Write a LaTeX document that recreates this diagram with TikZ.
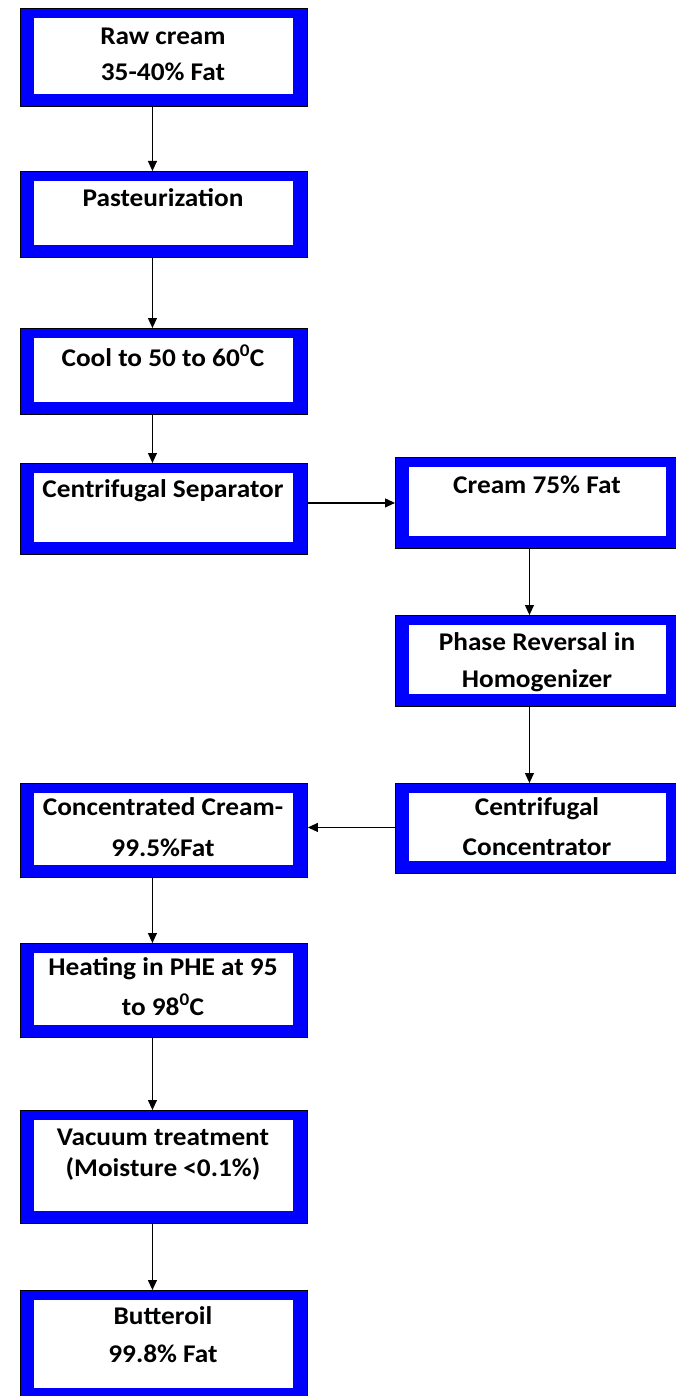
\documentclass[tikz,border=0pt]{standalone}
\usepackage{fontspec}
\setmainfont{Carlito}[FakeStretch=1.07]
\usetikzlibrary{arrows.meta,calc}
\definecolor{bandblue}{RGB}{0,0,255}
\tikzset{
  box/.style={draw=black, line width=0.9pt, fill=bandblue, rectangle, inner sep=0pt, anchor=north west,
    path picture={\fill[white] ([shift={(14pt,12pt)}]path picture bounding box.south west) rectangle ([shift={(-14pt,-10pt)}]path picture bounding box.north east);}},
  lbl/.style={font=\fontsize{25.5}{30}\selectfont\bfseries, anchor=base, inner sep=0pt},
  arr/.style={-{Triangle[length=10pt,width=9pt]}, line width=1.1pt}
}
\begin{document}
\begin{tikzpicture}[x=1pt,y=-1pt]
\useasboundingbox[fill=white] (0,0) rectangle (675,1396);
% boxes
\node[box, minimum width=287pt, minimum height=98pt] (b1) at (20,8) {};
\node[box, minimum width=287pt, minimum height=86pt] (b2) at (20,171) {};
\node[box, minimum width=287pt, minimum height=86pt] (b3) at (20,328) {};
\node[box, minimum width=287pt, minimum height=91pt] (b4) at (20,463) {};
\node[box, minimum width=285pt, minimum height=91pt] (b5) at (395,457) {};
\node[box, minimum width=285pt, minimum height=91pt] (b6) at (395,615) {};
\node[box, minimum width=285pt, minimum height=90pt] (b7) at (395,783) {};
\node[box, minimum width=287pt, minimum height=94pt] (b8) at (20,783) {};
\node[box, minimum width=287pt, minimum height=94pt] (b9) at (20,943) {};
\node[box, minimum width=287pt, minimum height=113pt] (b10) at (20,1110) {};
\node[box, minimum width=287pt, minimum height=110pt] (b11) at (20,1290) {};
% texts
\node[lbl] (t1a) at (163,45) {Raw cream};
\node[lbl] (t1b) at (163,81) {35-40\% Fat};
\node[lbl] (t2) at (163,207) {Pasteurization};
\node[lbl] (t3) at (163,366) {Cool to 50 to 60\textsuperscript{0}C};
\node[lbl] (t4) at (163,497) {Centrifugal Separator};
\node[lbl] (t5) at (537,493) {Cream 75\% Fat};
\node[lbl] (t6a) at (537,650) {Phase Reversal in};
\node[lbl] (t6b) at (537,687) {Homogenizer};
\node[lbl] (t7a) at (537,815) {Centrifugal};
\node[lbl] (t7b) at (537,855) {Concentrator};
\node[lbl] (t8a) at (163,815) {Concentrated Cream-};
\node[lbl] (t8b) at (163,856) {99.5\%Fat};
\node[lbl] (t9a) at (163,975) {Heating in PHE at 95};
\node[lbl] (t9b) at (163,1015) {to 98\textsuperscript{0}C};
\node[lbl] (t10a) at (163,1145) {Vacuum treatment};
\node[lbl] (t10b) at (163,1176) {(Moisture <0.1\%)};
\node[lbl] (t11a) at (163,1324) {Butteroil};
\node[lbl] (t11b) at (163,1362) {99.8\% Fat};
% connectors
\draw[arr] ([xshift=-11.5pt]b1.south) -- ([xshift=-11.5pt]b2.north);
\draw[arr] ([xshift=-11.5pt]b2.south) -- ([xshift=-11.5pt]b3.north);
\draw[arr] ([xshift=-11.5pt]b3.south) -- ([xshift=-11.5pt]b4.north);
\draw[arr] (b5.west -| b4.east) -- (b5.west);
\draw[arr] ([xshift=-8.5pt]b5.south) -- ([xshift=-8.5pt]b6.north);
\draw[arr] ([xshift=-8.5pt]b6.south) -- ([xshift=-8.5pt]b7.north);
\draw[arr] ([yshift=1pt]b7.west) -- ([yshift=1pt]b7.west -| b8.east);
\draw[arr] ([xshift=-11.5pt]b8.south) -- ([xshift=-11.5pt]b9.north);
\draw[arr] ([xshift=-11.5pt]b9.south) -- ([xshift=-11.5pt]b10.north);
\draw[arr] ([xshift=-11.5pt]b10.south) -- ([xshift=-11.5pt]b11.north);
\end{tikzpicture}
\end{document}
